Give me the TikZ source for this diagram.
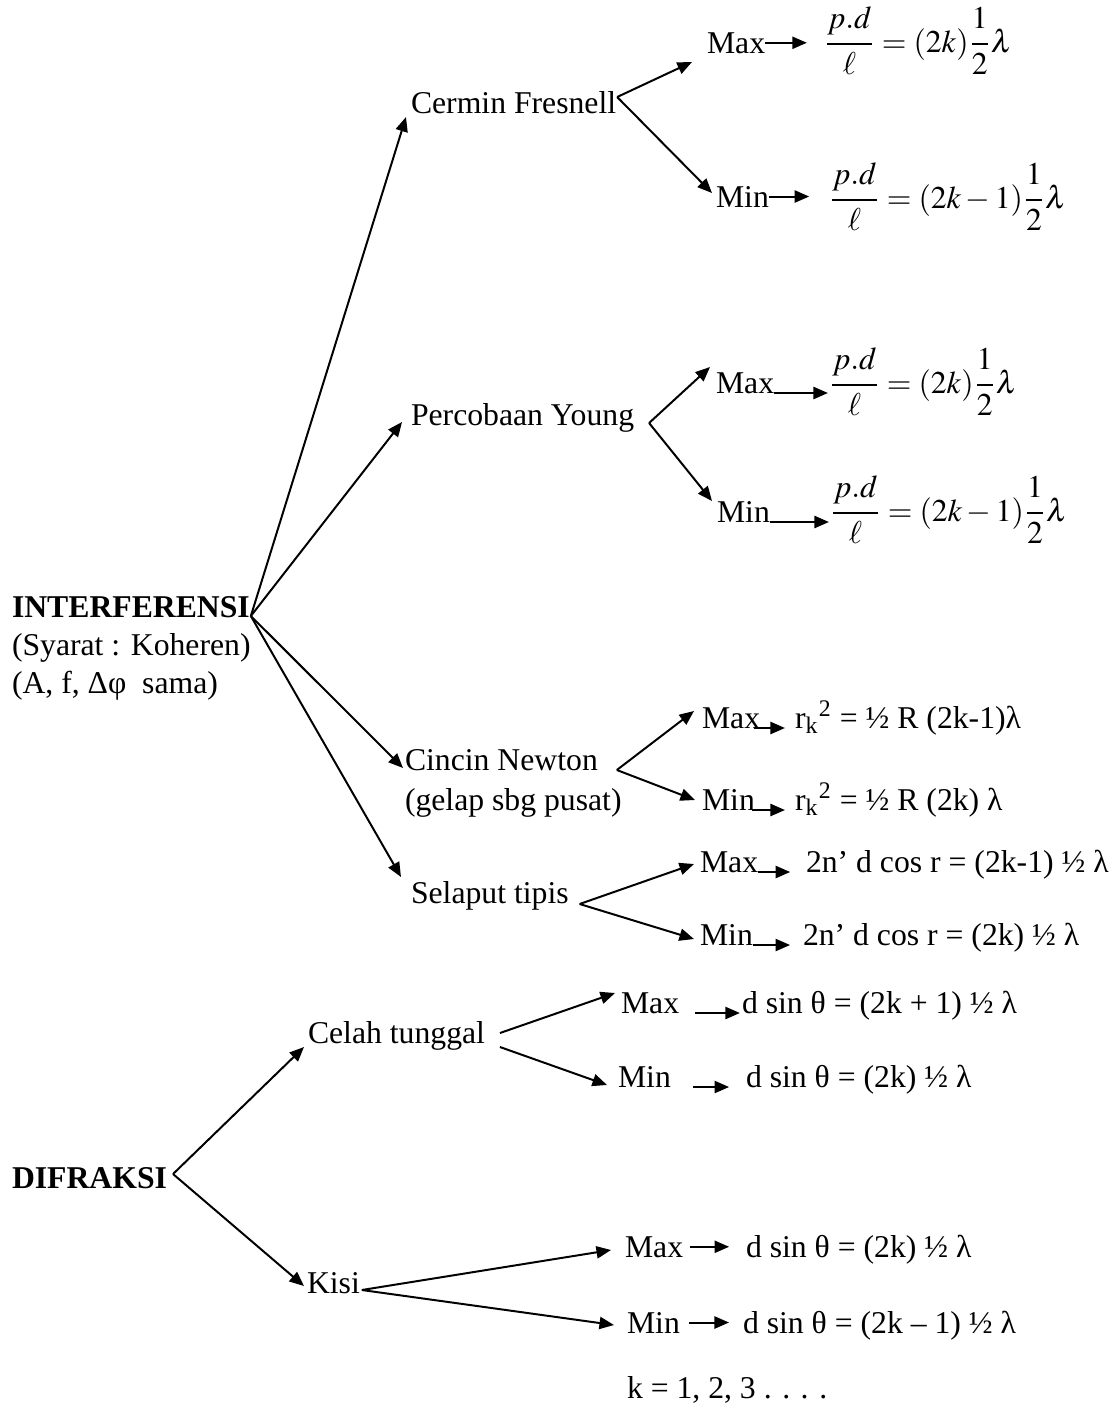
\documentclass[tikz,border=0pt]{standalone}
\usepackage{amsmath}
\usepackage{mathptmx}
\usepackage{fontspec}
\setmainfont{Liberation Serif}
\usetikzlibrary{arrows.meta,calc}

\newcommand{\pdfrac}{\dfrac{\strut p.d}{\strut\ell}}
\newcommand{\halffrac}{\dfrac{\strut 1}{\strut 2}}

\begin{document}
\begin{tikzpicture}[x=0.3785pt, y=-0.3785pt,
    font=\fontsize{12}{14}\selectfont,
    lbl/.style={anchor=base west, inner sep=0pt, outer sep=0pt},
    root/.style={lbl, font=\fontsize{12}{14}\selectfont\bfseries},
    conn/.style={-{Triangle[length=5.5pt, width=4.6pt]}, line width=0.75pt}]
    \useasboundingbox (0,0) rectangle (1120,1416);

    % Interferensi
    \node[root] (inter) at (12,617) {INTERFERENSI};
    \node[lbl] (syarat) at (12,655) {(Syarat : Koheren)};
    \node[lbl] (asama) at (12,693) {(A, f, Δφ\ \ sama)};

    \node[lbl] (fres) at (411,113) {Cermin Fresnell};
    \node[lbl] (young) at (411,425) {Percobaan Young};
    \node[lbl] (newton) at (405,770) {Cincin Newton};
    \node[lbl] (gelap) at (405,810) {(gelap sbg pusat)};
    \node[lbl] (selaput) at (411,903) {Selaput tipis};

    % Cermin Fresnell
    \node[lbl] (fresMax) at (707,53) {Max};
    \node[lbl] (fresMaxEq) at (824,52) {$\pdfrac=(2k)\halffrac\lambda$};
    \node[lbl] (fresMin) at (716,207) {Min};
    \node[lbl] (fresMinEq) at (829,208) {$\pdfrac=(2k-1)\halffrac\lambda$};

    % Percobaan Young
    \node[lbl] (youngMax) at (716,393) {Max};
    \node[lbl] (youngMaxEq) at (829,393) {$\pdfrac=(2k)\halffrac\lambda$};
    \node[lbl] (youngMin) at (717,522) {Min};
    \node[lbl] (youngMinEq) at (830,521) {$\pdfrac=(2k-1)\halffrac\lambda$};

    % Cincin Newton
    \node[lbl] (newtonMax) at (702,728) {Max};
    \node[lbl] (newtonMaxEq) at (795,728) {r\textsubscript{k}\textsuperscript{2} = ½ R (2k-1)λ};
    \node[lbl] (newtonMin) at (702,810) {Min};
    \node[lbl] (newtonMinEq) at (795,810) {r\textsubscript{k}\textsuperscript{2} = ½ R (2k) λ};

    % Selaput tipis
    \node[lbl] (selMax) at (700,872) {Max};
    \node[lbl] (selMaxEq) at (806,872) {2n’ d cos r = (2k-1) ½ λ};
    \node[lbl] (selMin) at (700,945) {Min};
    \node[lbl] (selMinEq) at (803,945) {2n’ d cos r = (2k) ½ λ};

    % Difraksi
    \node[root] (difr) at (12,1188) {DIFRAKSI};
    \node[lbl] (celah) at (308,1043) {Celah tunggal};
    \node[lbl] (kisi) at (307,1293) {Kisi};

    \node[lbl] (celahMax) at (621,1013) {Max};
    \node[lbl] (celahMaxEq) at (742,1013) {d sin θ = (2k + 1) ½ λ};
    \node[lbl] (celahMin) at (618,1087) {Min};
    \node[lbl] (celahMinEq) at (746,1087) {d sin θ = (2k) ½ λ};

    \node[lbl] (kisiMax) at (625,1257) {Max};
    \node[lbl] (kisiMaxEq) at (746,1257) {d sin θ = (2k) ½ λ};
    \node[lbl] (kisiMin) at (627,1333) {Min};
    \node[lbl] (kisiMinEq) at (743,1333) {d sin θ = (2k – 1) ½ λ};
    \node[lbl] (kval) at (627,1398) {k = 1, 2, 3 . . . .};

    % Branch points
    \coordinate (jInter) at ($(inter.base east)+(1,-1)$);
    \coordinate (jFres) at ($(fres.base east)+(1,-16)$);
    \coordinate (jYoung) at ($(young.base east)+(15,-2)$);
    \coordinate (jNewton) at ($(newton.base east)+(19,0)$);
    \coordinate (jSel) at ($(selaput.base east)+(11,1)$);
    \coordinate (jDifr) at ($(difr.base east)+(6,-14)$);
    \coordinate (jKisi) at ($(kisi.base east)+(2,-3)$);

    % Connectors from INTERFERENSI
    \draw[conn] (jInter) -- ($(fres.base west)+(-5,4)$);
    \draw[conn] (jInter) -- ($(young.base west)+(-9,-3)$);
    \draw[conn] (jInter) -- ($(newton.base west)+(-2,-2)$);
    \draw[conn] (jInter) -- ($(selaput.base west)+(-10,-26)$);

    % Second level
    \draw[conn] (jFres) -- ($(fresMax.base west)+(-15,9)$);
    \draw[conn] (jFres) -- ($(fresMin.base west)+(-4,-14)$);
    \draw[conn] (jYoung) -- ($(youngMax.base west)+(-6,-26)$);
    \draw[conn] (jYoung) -- ($(youngMin.base west)+(-5,-21)$);
    \draw[conn] (jNewton) -- ($(newtonMax.base west)+(-8,-17)$);
    \draw[conn] (jNewton) -- ($(newtonMin.base west)+(-7,-10)$);
    \draw[conn] (jSel) -- ($(selMax.base west)+(-6,-8)$);
    \draw[conn] (jSel) -- ($(selMin.base west)+(-6,-6)$);

    % Connectors from DIFRAKSI
    \draw[conn] (jDifr) -- ($(celah.base west)+(-4,4)$);
    \draw[conn] (jDifr) -- ($(kisi.base west)+(-3,-7)$);
    \draw[conn] ($(celah.base east)+(15,-10)$) -- ($(celahMax.base west)+(-6,-20)$);
    \draw[conn] ($(celah.base east)+(15,4)$) -- ($(celahMin.base west)+(-11,-2)$);
    \draw[conn] (jKisi) -- ($(kisiMax.base west)+(-14,-7)$);
    \draw[conn] (jKisi) -- ($(kisiMin.base west)+(-13,-8)$);

    % Arrows to the formulas
    \draw[conn, shorten >=6.5pt] (fresMax.east) -- (fresMax.east -| fresMaxEq.west);
    \draw[conn, shorten >=7.5pt] (fresMin.east) -- (fresMin.east -| fresMinEq.west);
    \draw[conn, shorten >=0.4pt] (youngMax.base east) -- (youngMax.base east -| youngMaxEq.west);
    \draw[conn, shorten >=0.4pt] (youngMin.base east) -- (youngMin.base east -| youngMinEq.west);
    \draw[conn, shorten <=-2.5pt, shorten >=3.8pt] (newtonMax.base east) -- (newtonMax.base east -| newtonMaxEq.west);
    \draw[conn, shorten <=-1pt, shorten >=3.8pt] (newtonMin.base east) -- (newtonMin.base east -| newtonMinEq.west);
    \draw[conn, shorten >=6pt] (selMax.base east) -- (selMax.base east -| selMaxEq.west);
    \draw[conn, shorten >=4.9pt] (selMin.base east) -- (selMin.base east -| selMinEq.west);
    \draw[conn, shorten <=6pt, shorten >=0.8pt] (celahMax.base east) -- (celahMax.base east -| celahMaxEq.west);
    \draw[conn, shorten <=8.3pt, shorten >=6.4pt] (celahMin.base east) -- (celahMin.base east -| celahMinEq.west);
    \draw[conn, shorten <=2.6pt, shorten >=6.4pt] (kisiMax.east) -- (kisiMax.east -| kisiMaxEq.west);
    \draw[conn, shorten <=3.4pt, shorten >=5.3pt] (kisiMin.east) -- (kisiMin.east -| kisiMinEq.west);
\end{tikzpicture}
\end{document}
